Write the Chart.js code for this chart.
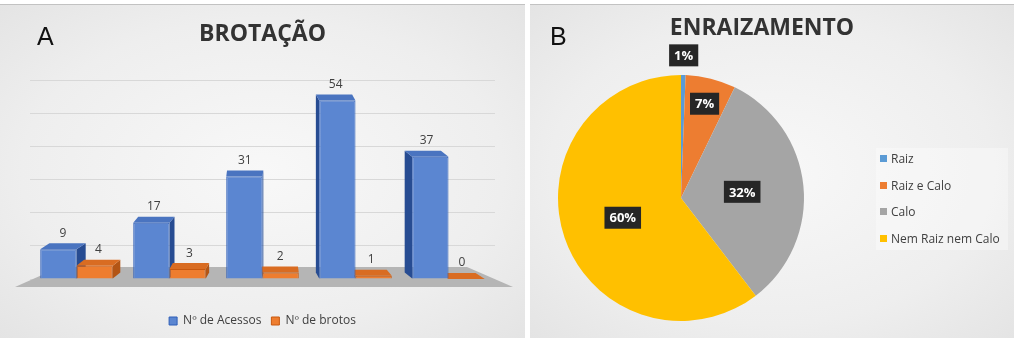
<!DOCTYPE html>
<html>
<head>
<meta charset="utf-8">
<script src="https://cdn.jsdelivr.net/npm/chart.js@4"></script>
<style>
    body { margin: 0; width: 1014px; height: 341px; background: #fff; position: relative; overflow: hidden; font-family: "Open Sans", sans-serif; }
    .panel { position: absolute; top: 4px; height: 334px; box-sizing: border-box; border-top: 1px solid #c2c2c2;
             background: radial-gradient(ellipse at center, #f8f8f8 0%, #eeeeee 65%, #e4e4e4 100%); }
    #panelA { left: 0; width: 525px; }
    #panelB { left: 530px; width: 484px; }
    .panel canvas { position: absolute; left: 0; top: 0; }
    .letter { position: absolute; top: 17px; font-family: "Liberation Sans", Arial, sans-serif; font-size: 25px; color: #111; }
    #titleB { position: absolute; left: 0; width: 464px; top: 5px; text-align: center; font-weight: bold; font-size: 23px; color: #333; }
    #legendB { position: absolute; left: 346px; top: 143px; width: 128px; padding: 4px 0 4px 4px; background: rgba(255,255,255,0.35); }
    #legendB div { height: 14px; line-height: 14px; margin-bottom: 12.7px; font-size: 12px; color: #404040; white-space: nowrap; }
    #legendB div:last-child { margin-bottom: 0; }
    #legendB span { display: inline-block; width: 7px; height: 7px; margin-right: 4px; vertical-align: 1px; }
</style>
</head>
<body>
<div class="panel" id="panelA">
    <canvas id="brotacaoChart" width="525" height="333"></canvas>
    <div class="letter" style="left:37px">A</div>
</div>
<div class="panel" id="panelB">
    <canvas id="enraizamentoChart" width="484" height="333"></canvas>
    <div class="letter" style="left:20px">B</div>
    <div id="titleB">ENRAIZAMENTO</div>
    <div id="legendB"></div>
</div>
<script>
// painel A - brotação
const grupos = ['1', '2', '3', '4', '5'];
const acessos = [9, 17, 31, 54, 37];
const brotos = [4, 3, 2, 1, 0];

// painel B - enraizamento (%)
const classes = ['Raiz', 'Raiz e Calo', 'Calo', 'Nem Raiz nem Calo'];
const enraiz = [0.6, 6.6, 32.4, 60.4];
const coresPie = ['#5b9bd5', '#ed7d31', '#a5a5a5', '#ffc000'];

// gray floor under the bars
const floorPlugin = {
    id: 'floor',
    beforeDatasetsDraw(chart) {
        const {ctx, chartArea: a} = chart;
        const base = chart.scales.y.getPixelForValue(0);
        ctx.save();
        ctx.fillStyle = '#b5b5b5';
        ctx.beginPath();
        ctx.moveTo(a.left + 30, base - 12);
        ctx.lineTo(a.right - 28, base - 12);
        ctx.lineTo(a.right + 18, base + 8);
        ctx.lineTo(a.left - 15, base + 8);
        ctx.closePath();
        ctx.fill();
        ctx.restore();
    }
};

// fake 3d: top and side faces drawn behind the fronts
const depth = (chart, bar) => {
    const a = chart.chartArea;
    return { dx: ((a.left + a.right) / 2 - bar.x) * 0.045, dy: 6 };
};
const shade = [['#4a74c0', '#274c92'], ['#d96c22', '#b35515']];
const faces3d = {
    id: 'faces3d',
    beforeDatasetsDraw(chart) {
        const {ctx} = chart;
        ctx.save();
        chart.data.datasets.forEach((ds, di) => {
            chart.getDatasetMeta(di).data.forEach(bar => {
                const {dx, dy} = depth(chart, bar);
                const L = bar.x - bar.width / 2, R = bar.x + bar.width / 2;
                const top = bar.y, base = bar.base;
                const sx = dx > 0 ? R : L;
                ctx.fillStyle = shade[di][1];
                ctx.beginPath();
                ctx.moveTo(sx, top); ctx.lineTo(sx + dx, top - dy);
                ctx.lineTo(sx + dx, base - dy); ctx.lineTo(sx, base);
                ctx.closePath(); ctx.fill();
                ctx.fillStyle = shade[di][0];
                ctx.beginPath();
                ctx.moveTo(L, top); ctx.lineTo(R, top);
                ctx.lineTo(R + dx, top - dy); ctx.lineTo(L + dx, top - dy);
                ctx.closePath(); ctx.fill();
            });
        });
        ctx.restore();
    }
};

const barValues = {
    id: 'barValues',
    afterDatasetsDraw(chart) {
        const {ctx} = chart;
        ctx.save();
        ctx.font = '12px "Open Sans"';
        ctx.fillStyle = '#404040';
        ctx.textAlign = 'center';
        ctx.textBaseline = 'bottom';
        chart.data.datasets.forEach((ds, di) => {
            chart.getDatasetMeta(di).data.forEach((bar, i) => {
                const {dx, dy} = depth(chart, bar);
                ctx.fillText(ds.data[i], bar.x + dx / 2, bar.y - dy - 4);
            });
        });
        ctx.restore();
    }
};

new Chart(document.getElementById('brotacaoChart'), {
    type: 'bar',
    data: {
        labels: grupos,
        datasets: [{
            label: 'Nº de Acessos',
            data: acessos,
            backgroundColor: '#5b86d1',
            borderColor: '#2f5fb8',
            borderWidth: 1
        }, {
            label: 'Nº de brotos',
            data: brotos,
            backgroundColor: '#ee7d2f',
            borderColor: '#c8580f',
            borderWidth: 1
        }]
    },
    options: {
        responsive: false,
        animation: false,
        layout: { padding: { left: 30, right: 30, bottom: 1 } },
        datasets: { bar: { categoryPercentage: 0.78, barPercentage: 1.0 } },
        scales: {
            x: {
                ticks: { display: false },
                grid: { display: false },
                border: { display: false },
                afterFit: s => { s.height = 26; }
            },
            y: {
                min: 0,
                max: 60,
                ticks: { display: false, stepSize: 10 },
                grid: { color: '#d8d8d8', drawTicks: false },
                border: { display: false },
                afterFit: s => { s.width = 0; }
            }
        },
        plugins: {
            title: {
                display: true,
                text: 'BROTAÇÃO',
                color: '#333333',
                font: { family: 'Open Sans', size: 23, weight: 'bold' },
                padding: { top: 16, bottom: 32 }
            },
            legend: {
                position: 'bottom',
                labels: {
                    color: '#404040',
                    boxWidth: 8,
                    boxHeight: 8,
                    font: { family: 'Open Sans', size: 12 }
                }
            },
            tooltip: { enabled: false }
        }
    },
    plugins: [floorPlugin, faces3d, barValues]
});

// dark boxed percentage labels
const pieLabels = {
    id: 'pieLabels',
    afterDatasetsDraw(chart) {
        const {ctx} = chart;
        const vals = chart.data.datasets[0].data;
        const total = vals.reduce((s, v) => s + v, 0);
        ctx.save();
        ctx.font = 'bold 13px "Open Sans"';
        ctx.textAlign = 'center';
        ctx.textBaseline = 'middle';
        chart.getDatasetMeta(0).data.forEach((arc, i) => {
            const pct = vals[i] / total * 100;
            const txt = Math.round(pct) + '%';
            const mid = (arc.startAngle + arc.endAngle) / 2;
            const f = pct < 3 ? 1.16 : pct < 10 ? 0.79 : 0.5;
            const x = arc.x + Math.cos(mid) * arc.outerRadius * f;
            const y = arc.y + Math.sin(mid) * arc.outerRadius * f;
            const w = ctx.measureText(txt).width + 10, h = 22;
            ctx.fillStyle = '#262626';
            ctx.fillRect(x - w / 2, y - h / 2, w, h);
            ctx.fillStyle = '#ffffff';
            ctx.fillText(txt, x, y + 1);
        });
        ctx.restore();
    }
};

new Chart(document.getElementById('enraizamentoChart'), {
    type: 'pie',
    data: {
        labels: classes,
        datasets: [{
            data: enraiz,
            backgroundColor: coresPie,
            borderWidth: 0
        }]
    },
    options: {
        responsive: false,
        animation: false,
        layout: { padding: { left: 28, right: 210, top: 70, bottom: 17 } },
        plugins: {
            legend: { display: false },
            tooltip: { enabled: false }
        }
    },
    plugins: [pieLabels]
});

const legendB = document.getElementById('legendB');
classes.forEach((c, i) => {
    const item = document.createElement('div');
    item.innerHTML = '<span style="background:' + coresPie[i] + '"></span>' + c;
    legendB.appendChild(item);
});
</script>
</body>
</html>
